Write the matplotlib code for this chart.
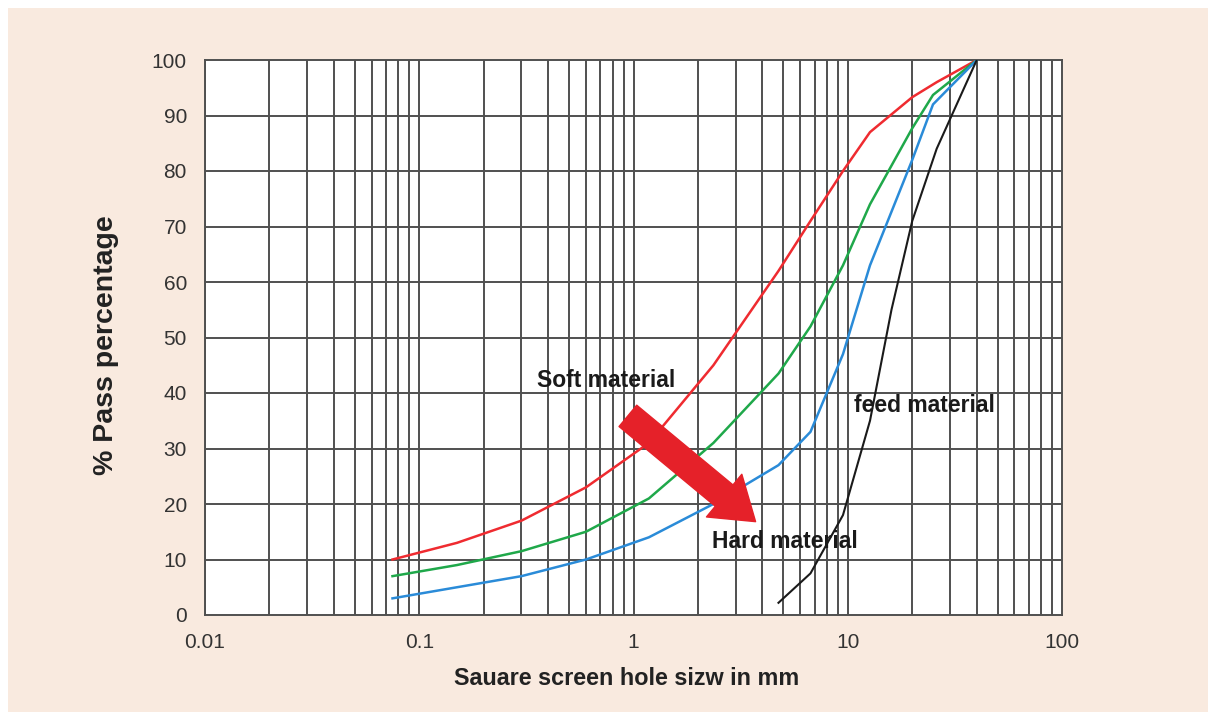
import numpy as np
import matplotlib.pyplot as plt
from matplotlib.patches import Rectangle, FancyArrowPatch

plt.rcParams['font.family'] = ['Liberation Sans', 'DejaVu Sans']

# screen sizes in mm and % passing
x_soft = [0.075, 0.15, 0.3, 0.6, 1.18, 2.36, 4.75, 6.7, 9.5, 12.7, 20, 26, 40]
y_soft = [10, 13, 17, 23, 31, 45, 62, 71, 80, 87, 93.3, 96, 100]

x_mid = [0.075, 0.15, 0.3, 0.6, 1.18, 2.36, 4.75, 6.7, 9.5, 12.7, 20, 25, 40]
y_mid = [7, 9, 11.5, 15, 21, 31, 43.5, 52, 63, 74, 87.7, 93.7, 100]

x_hard = [0.075, 0.15, 0.3, 0.6, 1.18, 2.36, 4.75, 6.7, 9.5, 12.7, 20, 25, 40]
y_hard = [3, 5, 7, 10, 14, 20, 27, 33, 47, 63, 82, 92, 100]

x_feed = [4.75, 6.7, 9.5, 12.7, 16, 20, 26, 40]
y_feed = [2.2, 7.5, 18, 35, 55, 71, 84, 100]

fig = plt.figure(figsize=(12.08, 7.12), dpi=100)
fig.patches.append(Rectangle((8/1208, 0), 1, 1 - 8/712, transform=fig.transFigure,
                             facecolor='#f9eadf', edgecolor='none', zorder=-10))

ax = fig.add_axes([205/1208, 1 - 615/712, 857/1208, 555/712])
ax.set_facecolor('white')
ax.set_xscale('log')
ax.set_xlim(0.01, 100)
ax.set_ylim(0, 100)

# grid
grid_c = '#505050'
for dec in [0.01, 0.1, 1, 10]:
    for k in range(1, 10):
        ax.axvline(dec * k, color=grid_c, lw=1.4, zorder=1)
for v in range(10, 100, 10):
    ax.axhline(v, color=grid_c, lw=1.4, zorder=1)
for s in ax.spines.values():
    s.set_color(grid_c)
    s.set_linewidth(1.4)

ax.plot(x_soft, y_soft, color='#ef2b30', lw=1.8, zorder=3)
ax.plot(x_mid, y_mid, color='#1fa84a', lw=1.8, zorder=3)
ax.plot(x_hard, y_hard, color='#2a8bd8', lw=1.8, zorder=3)
ax.plot(x_feed, y_feed, color='#1a1a1a', lw=1.5, zorder=3)

ax.set_xticks([0.01, 0.1, 1, 10, 100])
ax.set_xticklabels(['0.01', '0.1', '1', '10', '100'])
ax.minorticks_off()
ax.set_yticks(range(0, 101, 10))
ax.tick_params(length=0, labelsize=15, labelcolor='#333333', pad=13)
ax.tick_params(axis='x', pad=13)

ax.set_xlabel('Sauare screen hole sizw in mm', fontsize=16.8, fontweight='bold',
              color='#222222')
ax.xaxis.set_label_coords(0.492, -0.093)
ax.set_ylabel('% Pass percentage', fontsize=20.5, fontweight='bold',
              color='#222222')
ax.yaxis.set_label_coords(-0.1, 0.486)

ax.text(0.745, 42.2, 'Soft material', fontsize=16.5, fontweight='bold',
        ha='center', va='center', color='#1a1a1a', zorder=5)
ax.text(22.9, 37.8, 'feed material', fontsize=16.5, fontweight='bold',
        ha='center', va='center', color='#1a1a1a', zorder=5)
ax.text(5.1, 13.3, 'Hard material', fontsize=16.5, fontweight='bold',
        ha='center', va='center', color='#1a1a1a', zorder=5)

arrow = FancyArrowPatch((0.92, 36.2), (3.8, 16.5),
                        arrowstyle='simple,head_length=1.4,head_width=1.9,tail_width=0.95',
                        mutation_scale=21, color='#e52129', zorder=4)
ax.add_patch(arrow)

fig.savefig('out.png', dpi=100)
